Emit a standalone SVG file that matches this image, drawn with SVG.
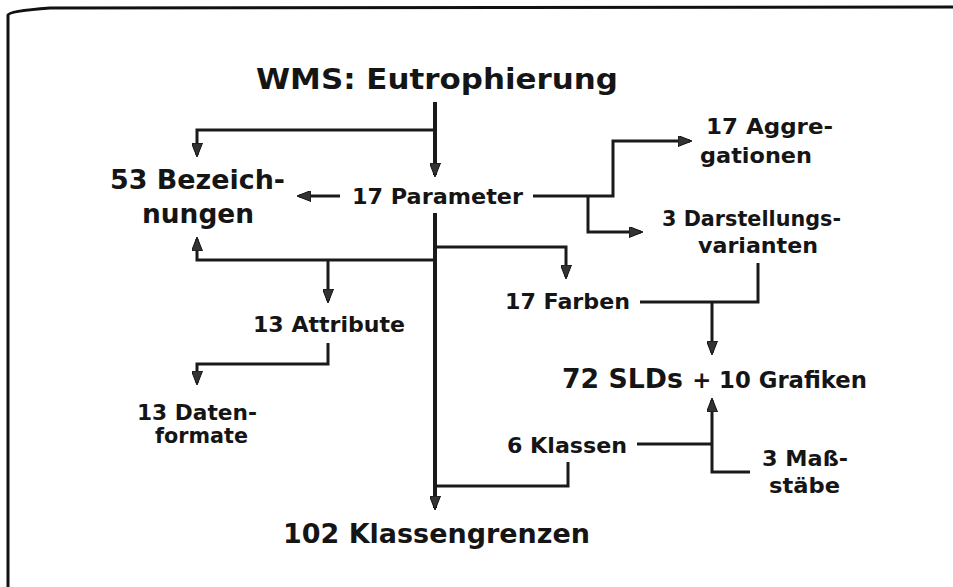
<svg xmlns="http://www.w3.org/2000/svg" width="953" height="587" viewBox="0 0 953 587">
<style>
text{font-family:"DejaVu Sans","Verdana","Liberation Sans",sans-serif;font-weight:bold;fill:#151515}
.s{font-size:21px}
.m{font-size:26px}
.l{font-size:29px}
.c{fill:none;stroke:#1a1a1a;stroke-width:3}
.v{stroke-width:4}
.a{marker-end:url(#arr)}
</style>
<defs>
<marker id="arr" viewBox="0 0 14 11" refX="12" refY="5.5" markerWidth="14" markerHeight="11" markerUnits="userSpaceOnUse" orient="auto">
<path d="M0,0 L14,5.5 L0,11 z" fill="#333" stroke="#111" stroke-width="1"/>
</marker>
</defs>
<rect width="953" height="587" fill="#fff"/>
<path d="M8,587 L8,15 Q9,11 50,8 L953,7" fill="none" stroke="#111" stroke-width="3"/>
<g id="connectors">
<path class="c v a" d="M435,102 V175"/>
<path class="c a" d="M435,130 H197 V155"/>
<path class="c a" d="M340,196 H299"/>
<path class="c a" d="M533,196 H613 V141 H690"/>
<path class="c a" d="M588,196 V232 H641"/>
<path class="c v a" d="M435,213 V508"/>
<path class="c a" d="M435,247 H566 V277"/>
<path class="c a" d="M435,260 H197 V239"/>
<path class="c a" d="M328,260 V301"/>
<path class="c a" d="M328,343 V364 H197 V383"/>
<path class="c" d="M758,263 V302 H640"/>
<path class="c a" d="M712,302 V353"/>
<path class="c" d="M637,444 H712"/>
<path class="c a" d="M750,472 H712 V400"/>
<path class="c" d="M568,462 V486 H435"/>
</g>
<g id="wms"><text class="l" x="256" y="89" textLength="362" lengthAdjust="spacingAndGlyphs">WMS: Eutrophierung</text></g>
<g id="bezeichnungen">
<text class="m" x="110" y="189" textLength="175" lengthAdjust="spacingAndGlyphs">53 Bezeich-</text>
<text class="m" x="142" y="223" textLength="112" lengthAdjust="spacingAndGlyphs">nungen</text>
</g>
<g id="parameter"><text class="s" x="352" y="204" textLength="171" lengthAdjust="spacingAndGlyphs">17 Parameter</text></g>
<g id="aggregationen">
<text class="s" x="706" y="134" textLength="127" lengthAdjust="spacingAndGlyphs">17 Aggre-</text>
<text class="s" x="700" y="163" textLength="112" lengthAdjust="spacingAndGlyphs">gationen</text>
</g>
<g id="darstellung">
<text class="s" x="662" y="226" textLength="179" lengthAdjust="spacingAndGlyphs">3 Darstellungs-</text>
<text class="s" x="698" y="253" textLength="120" lengthAdjust="spacingAndGlyphs">varianten</text>
</g>
<g id="farben"><text class="s" x="505" y="309" textLength="125" lengthAdjust="spacingAndGlyphs">17 Farben</text></g>
<g id="attribute"><text class="s" x="253" y="332" textLength="152" lengthAdjust="spacingAndGlyphs">13 Attribute</text></g>
<g id="datenformate">
<text class="s" x="137" y="420" textLength="120" lengthAdjust="spacingAndGlyphs">13 Daten-</text>
<text class="s" x="155" y="443" textLength="93" lengthAdjust="spacingAndGlyphs">formate</text>
</g>
<g id="slds"><text x="562" y="388" textLength="305" lengthAdjust="spacingAndGlyphs"><tspan font-size="27">72 SLDs </tspan><tspan font-size="23">+ 10 Grafiken</tspan></text></g>
<g id="klassen"><text class="s" x="507" y="453" textLength="120" lengthAdjust="spacingAndGlyphs">6 Klassen</text></g>
<g id="massstaebe">
<text class="s" x="762" y="466" textLength="86" lengthAdjust="spacingAndGlyphs">3 Maß-</text>
<text class="s" x="769" y="493" textLength="71" lengthAdjust="spacingAndGlyphs">stäbe</text>
</g>
<g id="klassengrenzen"><text class="m" x="283" y="543" textLength="307" lengthAdjust="spacingAndGlyphs">102 Klassengrenzen</text></g>
</svg>
